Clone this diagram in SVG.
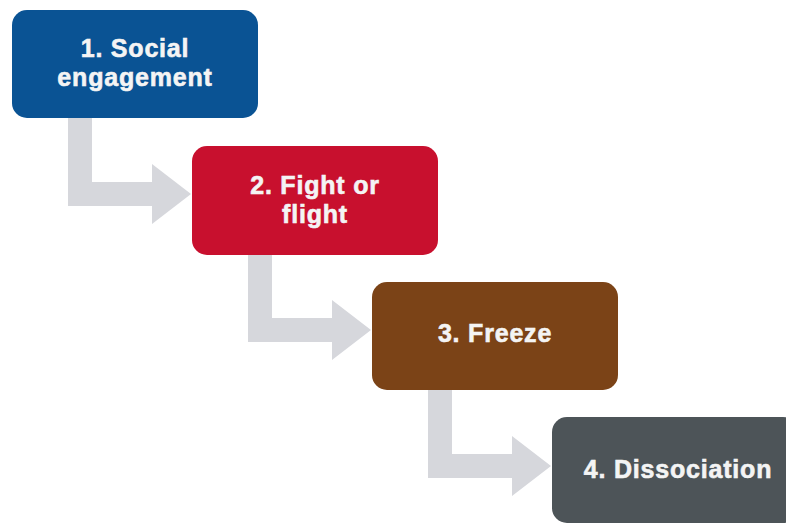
<svg xmlns="http://www.w3.org/2000/svg" width="786" height="523" viewBox="0 0 786 523">
<style>
.lbl{font-family:"Liberation Sans",Arial,sans-serif;font-weight:bold;font-size:25px;letter-spacing:0.8px;fill:#f4f4f4;stroke:#f4f4f4;stroke-width:0.6px;text-anchor:middle}
.arr{fill:#d6d7dc}
</style>
<rect width="786" height="523" fill="#ffffff"/>
<g id="connectors">
<path class="arr" d="M68,118 H92 V182 H152 V164 L191,194 L152,224 V206 H68 Z"/>
<path class="arr" d="M248,255 H272 V318 H332 V300 L371,330 L332,360 V342 H248 Z"/>
<path class="arr" d="M428,390 H452 V454 H512 V436 L551,466 L512,496 V478 H428 Z"/>
</g>
<g id="node1">
<rect x="12" y="10" width="246" height="108" rx="15" fill="#0a5394"/>
<text class="lbl" x="135" y="57">1. Social</text>
<text class="lbl" x="135" y="86">engagement</text>
</g>
<g id="node2">
<rect x="192" y="146" width="246" height="109" rx="15" fill="#c8102e"/>
<text class="lbl" x="315" y="194">2. Fight or</text>
<text class="lbl" x="315" y="223">flight</text>
</g>
<g id="node3">
<rect x="372" y="282" width="246" height="108" rx="15" fill="#7b4317"/>
<text class="lbl" x="495" y="342">3. Freeze</text>
</g>
<g id="node4">
<rect x="552" y="417" width="246" height="106" rx="15" fill="#4d5458"/>
<text class="lbl" x="678" y="478">4. Dissociation</text>
</g>
</svg>
